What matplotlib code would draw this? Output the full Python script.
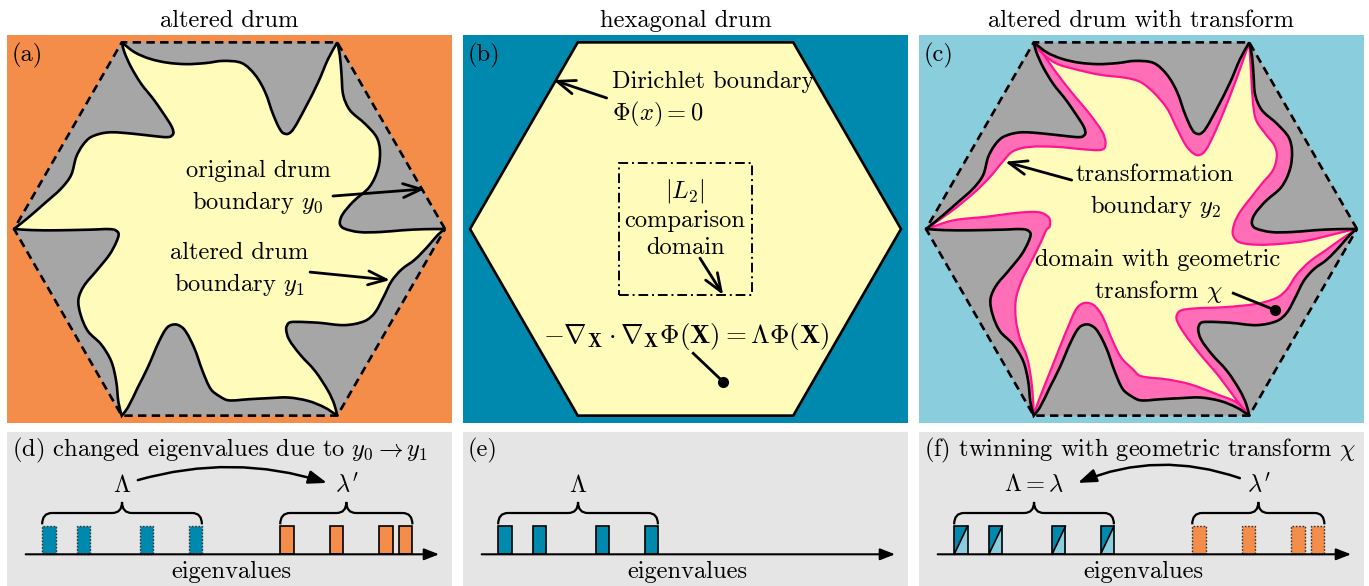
import matplotlib
matplotlib.use('Agg')
import matplotlib.pyplot as plt
import numpy as np
from matplotlib.path import Path
from matplotlib.patches import PathPatch, Polygon, Rectangle, FancyArrowPatch

plt.rcParams['font.family'] = 'serif'
plt.rcParams['font.serif'] = ['cmr10']
plt.rcParams['mathtext.fontset'] = 'cm'
plt.rcParams['axes.unicode_minus'] = False

ORANGE = '#F48D4A'
TEAL = '#0089AE'
LIGHTBLUE = '#8ACDDD'
YELLOW = '#FFFBBA'
GRAY = '#A6A6A6'
PINK_FILL = '#FF6EB6'
PINK_LINE = '#FF1493'
PANEL_BG = '#E5E5E5'
FS = 17.6

# altered boundary y1 (hexagon radius = 1), clockwise, one list per hexagon edge
y1_edges = [
    [(-1.0, 0.0), (-0.935, 0.052), (-0.858, 0.119), (-0.781, 0.188), (-0.735, 0.25),
     (-0.711, 0.335), (-0.681, 0.389), (-0.642, 0.427), (-0.565, 0.448), (-0.457, 0.443),
     (-0.349, 0.431), (-0.279, 0.427), (-0.261, 0.442), (-0.264, 0.465), (-0.279, 0.494),
     (-0.349, 0.597), (-0.410, 0.674), (-0.457, 0.752), (-0.488, 0.821), (-0.5, 0.866)],
    [(-0.5, 0.866), (-0.44, 0.82), (-0.37, 0.79), (-0.29, 0.772), (-0.2, 0.765),
     (-0.11, 0.77), (-0.03, 0.78), (0.057, 0.770), (0.119, 0.715), (0.165, 0.636),
     (0.204, 0.528), (0.242, 0.451), (0.270, 0.441), (0.296, 0.463), (0.350, 0.559),
     (0.412, 0.682), (0.458, 0.790), (0.5, 0.866)],
    [(0.5, 0.866), (0.512, 0.806), (0.520, 0.713), (0.528, 0.620), (0.559, 0.551),
     (0.628, 0.489), (0.682, 0.427), (0.698, 0.366), (0.690, 0.281), (0.650, 0.196),
     (0.574, 0.127), (0.523, 0.065), (0.512, 0.026), (0.528, 0.004), (0.60, -0.014),
     (0.70, -0.014), (0.80, -0.006), (0.90, -0.001), (1.0, 0.0)],
    [(1.0, 0.0), (0.968, -0.026), (0.921, -0.080), (0.860, -0.142), (0.798, -0.188),
     (0.752, -0.242), (0.713, -0.319), (0.674, -0.389), (0.628, -0.427), (0.535, -0.446),
     (0.412, -0.435), (0.304, -0.431), (0.275, -0.436), (0.263, -0.462), (0.275, -0.51),
     (0.327, -0.582), (0.397, -0.659), (0.458, -0.752), (0.486, -0.813), (0.5, -0.866)],
    [(0.5, -0.866), (0.443, -0.829), (0.366, -0.798), (0.273, -0.782), (0.181, -0.785),
     (0.088, -0.790), (-0.005, -0.795), (-0.045, -0.777), (-0.086, -0.744), (-0.125, -0.659),
     (-0.164, -0.551), (-0.210, -0.466), (-0.248, -0.443), (-0.287, -0.455), (-0.326, -0.520),
     (-0.380, -0.644), (-0.426, -0.736), (-0.472, -0.829), (-0.5, -0.866)],
    [(-0.5, -0.866), (-0.515, -0.806), (-0.526, -0.705), (-0.549, -0.613), (-0.596, -0.535),
     (-0.657, -0.474), (-0.691, -0.397), (-0.701, -0.327), (-0.676, -0.265), (-0.619, -0.196),
     (-0.557, -0.119), (-0.525, -0.06), (-0.515, -0.02), (-0.54, -0.002), (-0.642, -0.003),
     (-0.796, -0.006), (-0.92, -0.005), (-1.0, 0.0)],
]

# transformation boundary y2, same layout
y2_edges = [
    [(-1.0, 0.0), (-0.885, 0.080), (-0.775, 0.170), (-0.700, 0.245), (-0.642, 0.315),
     (-0.596, 0.361), (-0.519, 0.381), (-0.395, 0.381), (-0.272, 0.370), (-0.194, 0.366),
     (-0.172, 0.375), (-0.167, 0.405), (-0.182, 0.451), (-0.248, 0.543), (-0.326, 0.636),
     (-0.403, 0.736), (-0.457, 0.813), (-0.5, 0.866)],
    [(-0.5, 0.866), (-0.46, 0.815), (-0.395, 0.768), (-0.318, 0.744), (-0.194, 0.716),
     (-0.071, 0.701), (-0.005, 0.682), (0.057, 0.633), (0.119, 0.559), (0.165, 0.466),
     (0.211, 0.381), (0.255, 0.343), (0.289, 0.355), (0.327, 0.420), (0.381, 0.543),
     (0.435, 0.682), (0.474, 0.790), (0.5, 0.866)],
    [(0.5, 0.866), (0.509, 0.713), (0.517, 0.590), (0.532, 0.505), (0.574, 0.443),
     (0.616, 0.389), (0.628, 0.340), (0.610, 0.273), (0.559, 0.211), (0.505, 0.142),
     (0.458, 0.080), (0.431, 0.026), (0.424, -0.026), (0.451, -0.060), (0.535, -0.073),
     (0.644, -0.069), (0.767, -0.054), (0.890, -0.025), (0.96, -0.008), (1.0, 0.0)],
    [(1.0, 0.0), (0.93, -0.045), (0.86, -0.095), (0.782, -0.150), (0.721, -0.211),
     (0.674, -0.281), (0.628, -0.319), (0.535, -0.347), (0.381, -0.363), (0.242, -0.369),
     (0.177, -0.381), (0.162, -0.415), (0.196, -0.481), (0.273, -0.582), (0.358, -0.682),
     (0.427, -0.775), (0.474, -0.836), (0.5, -0.866)],
    [(0.5, -0.866), (0.443, -0.806), (0.350, -0.767), (0.227, -0.721), (0.119, -0.698),
     (-0.005, -0.682), (-0.040, -0.651), (-0.094, -0.597), (-0.140, -0.505), (-0.182, -0.404),
     (-0.222, -0.353), (-0.264, -0.343), (-0.299, -0.366), (-0.336, -0.443), (-0.380, -0.551),
     (-0.426, -0.667), (-0.469, -0.775), (-0.491, -0.836), (-0.5, -0.866)],
    [(-0.5, -0.866), (-0.503, -0.798), (-0.511, -0.705), (-0.531, -0.597), (-0.565, -0.505),
     (-0.583, -0.420), (-0.583, -0.327), (-0.557, -0.242), (-0.511, -0.150), (-0.465, -0.057),
     (-0.441, -0.003), (-0.426, 0.011), (-0.429, 0.052), (-0.472, 0.077), (-0.565, 0.076),
     (-0.719, 0.057), (-0.873, 0.040), (-1.0, 0.0)],
]

# eigenvalue positions (arbitrary units)
Lambda = [0.94, 1.72, 3.14, 4.23]
lambda_p = [6.29, 7.41, 8.52, 8.96]
bar_w = 0.30

titles = ['altered drum', 'hexagonal drum', 'altered drum with transform']
top_labels = ['(a)', '(b)', '(c)']


def smooth_path(edges):
    # chord-length Catmull-Rom through the traced points, corners kept at the vertices
    verts, codes = [np.asarray(edges[0][0], float)], [Path.MOVETO]
    for pts in edges:
        P = np.asarray(pts, float)
        n = len(P)
        d = np.linalg.norm(np.diff(P, axis=0), axis=1)
        m = np.zeros_like(P)
        m[0] = (P[1] - P[0]) / d[0]
        m[-1] = (P[-1] - P[-2]) / d[-1]
        for i in range(1, n - 1):
            m[i] = (P[i + 1] - P[i - 1]) / (d[i - 1] + d[i])
        for i in range(n - 1):
            verts += [P[i] + m[i] * d[i] / 3, P[i + 1] - m[i + 1] * d[i] / 3, P[i + 1]]
            codes += [Path.CURVE4] * 3
    verts.append(verts[0])
    codes.append(Path.CLOSEPOLY)
    return Path(verts, codes)


W, H = 1369, 586
fig = plt.figure(figsize=(W / 100, H / 100), dpi=100)


def px_axes(x0, y0, w, h, fc):
    ax = fig.add_axes([x0 / W, 1 - (y0 + h) / H, w / W, h / H])
    ax.set_xticks([])
    ax.set_yticks([])
    for s in ax.spines.values():
        s.set_visible(False)
    ax.set_facecolor(fc)
    return ax


hexagon = [(np.cos(a), np.sin(a)) for a in np.radians(np.arange(0, 360, 60))]
R = 215.5
path1 = smooth_path(y1_edges)
path2 = smooth_path(y2_edges)

top_axes = []
for i, (x0, fc) in enumerate(zip([7, 463, 919], [ORANGE, TEAL, LIGHTBLUE])):
    ax = px_axes(x0, 35, 445, 388, fc)
    ax.set_xlim(-222.5 / R, 222.5 / R)
    ax.set_ylim(-194 / R, 194 / R)
    ax.text(0, 0.939, titles[i], ha='center', va='baseline', fontsize=FS)
    ax.text(0.0105, 0.979, top_labels[i], transform=ax.transAxes, ha='left', va='top', fontsize=FS)
    top_axes.append(ax)

arrow_kw = dict(arrowstyle='->,head_length=1.3,head_width=0.5', lw=2, color='k',
                mutation_scale=10, shrinkA=0, shrinkB=0)

# (a) altered drum
ax = top_axes[0]
ax.add_patch(Polygon(hexagon, closed=True, fc=GRAY, ec='none'))
ax.add_patch(PathPatch(path1, fc=YELLOW, ec='k', lw=1.9))
ax.add_patch(Polygon(hexagon, closed=True, fill=False, ec='k', lw=1.9, ls=(0, (3.2, 2))))
ax.text(0.132, 0.190, 'original drum\nboundary $y_0$', ha='center', va='center',
        fontsize=FS, linespacing=1.35)
ax.annotate('', xy=(0.907, 0.186), xytext=(0.480, 0.153), arrowprops=arrow_kw)
ax.text(0.044, -0.190, 'altered drum\nboundary $y_1$', ha='center', va='center',
        fontsize=FS, linespacing=1.35)
ax.annotate('', xy=(0.745, -0.237), xytext=(0.374, -0.200), arrowprops=arrow_kw)

# (b) hexagonal drum
ax = top_axes[1]
ax.add_patch(Polygon(hexagon, closed=True, fc=YELLOW, ec='k', lw=1.9))
ax.text(-0.342, 0.599, 'Dirichlet boundary\n$\\Phi(x) = 0$', ha='left', va='center',
        fontsize=FS, linespacing=1.35)
ax.annotate('', xy=(-0.613, 0.691), xytext=(-0.366, 0.608), arrowprops=arrow_kw)
sq = 0.307
ax.add_patch(Rectangle((-sq, -sq), 2 * sq, 2 * sq, fill=False, ec='k', lw=1.4,
                       ls=(0, (5, 2, 1, 2))))
ax.text(-0.002, 0.051, '$|L_2|$\ncomparison\ndomain', ha='center', va='center',
        fontsize=FS, linespacing=1.3)
ax.annotate('', xy=(0.175, -0.306), xytext=(0.067, -0.135), arrowprops=arrow_kw)
ax.text(0.002, -0.501,
        '$-\\nabla_{\\mathbf{X}}\\cdot\\nabla_{\\mathbf{X}}\\Phi(\\mathbf{X}) = \\Lambda\\Phi(\\mathbf{X})$',
        ha='center', va='center', fontsize=FS * 1.1)
ax.plot([0.036, 0.175], [-0.577, -0.709], color='k', lw=2)
ax.plot([0.175], [-0.709], 'o', color='k', ms=7)

# (c) altered drum with transform
ax = top_axes[2]
ax.add_patch(Polygon(hexagon, closed=True, fc=GRAY, ec='none'))
ax.add_patch(PathPatch(path1, fc=PINK_FILL, ec='none'))
ax.add_patch(PathPatch(path2, fc=YELLOW, ec=PINK_LINE, lw=1.6))
ax.add_patch(PathPatch(path1, fc='none', ec='k', lw=1.9))
ax.add_patch(Polygon(hexagon, closed=True, fill=False, ec='k', lw=1.9, ls=(0, (3.2, 2))))
ax.text(0.063, 0.172, 'transformation\nboundary $y_2$', ha='center', va='center',
        fontsize=FS, linespacing=1.35)
ax.annotate('', xy=(-0.633, 0.312), xytext=(-0.324, 0.227), arrowprops=arrow_kw)
ax.text(0.077, -0.223, 'domain with geometric\ntransform $\\chi$', ha='center', va='center',
        fontsize=FS, linespacing=1.35)
ax.plot([0.426, 0.619], [-0.298, -0.376], color='k', lw=2)
ax.plot([0.619], [-0.376], 'o', color='k', ms=7)


# bottom eigenvalue panels
def brace(ax, x0, x1, yb=1.07, yf=1.475, yt=1.87, dx=0.22):
    xm = 0.5 * (x0 + x1)
    verts = [(x0, yb), (x0, yf), (x0 + dx, yf), (xm - dx, yf), (xm, yf), (xm, yt),
             (xm, yf), (xm + dx, yf), (x1 - dx, yf), (x1, yf), (x1, yb)]
    codes = [Path.MOVETO, Path.CURVE3, Path.CURVE3, Path.LINETO, Path.CURVE3, Path.CURVE3,
             Path.CURVE3, Path.CURVE3, Path.LINETO, Path.CURVE3, Path.CURVE3]
    ax.add_patch(PathPatch(Path(verts, codes), fc='none', ec='k', lw=1.6))


def bars(ax, xs, fc, ls='-', split=False):
    for x in xs:
        xa, xb = x - bar_w / 2, x + bar_w / 2
        if split:
            ax.add_patch(Polygon([(xa, 0), (xa, 1), (xb, 1)], fc=TEAL, ec='none'))
            ax.add_patch(Polygon([(xa, 0), (xb, 1), (xb, 0)], fc=LIGHTBLUE, ec='none'))
            ax.plot([xa, xb], [0, 1], color='k', lw=1.2)
            ax.add_patch(Rectangle((xa, 0), bar_w, 1, fill=False, ec='k', lw=1.2))
        elif ls == '-':
            ax.add_patch(Rectangle((xa, 0), bar_w, 1, fc=fc, ec='k', lw=1.2))
        else:
            ax.add_patch(Rectangle((xa, 0), bar_w, 1, fc=fc, ec='#333333', lw=1.0,
                                   ls=(0, (1.2, 1.2))))
    brace(ax, min(xs) - bar_w / 2, max(xs) + bar_w / 2)


bottom_axes = []
for x0 in [7, 463, 919]:
    ax = px_axes(x0, 432, 445, 154, PANEL_BG)
    ax.set_xlim(0, 10)
    ax.set_ylim(-1.132, 4.368)
    ax.annotate('', xy=(9.71, 0), xytext=(0.42, 0),
                arrowprops=dict(arrowstyle='-|>,head_length=0.9,head_width=0.35', lw=1.5,
                                color='k', mutation_scale=10, shrinkA=0, shrinkB=0))
    ax.text(5.05, -0.62, 'eigenvalues', ha='center', va='center', fontsize=FS)
    bottom_axes.append(ax)

curve_kw = dict(arrowstyle='-|>,head_length=1.1,head_width=0.4', lw=1.8, color='k',
                mutation_scale=10, shrinkA=0, shrinkB=0)

ax = bottom_axes[0]
ax.text(0.106, 3.49, '(d) changed eigenvalues due to $y_0 \\rightarrow y_1$', ha='left',
        va='baseline', fontsize=FS)
bars(ax, Lambda, TEAL, ls=':')
bars(ax, lambda_p, ORANGE)
ax.text(np.mean([min(Lambda), max(Lambda)]), 2.24, '$\\Lambda$', ha='center', va='baseline', fontsize=FS)
ax.text(np.mean([min(lambda_p), max(lambda_p)]), 2.24, "$\\lambda'$", ha='center', va='baseline', fontsize=FS)
ax.add_patch(FancyArrowPatch((2.94, 2.65), (7.19, 2.55), connectionstyle='arc3,rad=-0.15', **curve_kw))

ax = bottom_axes[1]
ax.text(0.11, 3.49, '(e)', ha='left', va='baseline', fontsize=FS)
bars(ax, Lambda, TEAL)
ax.text(np.mean([min(Lambda), max(Lambda)]), 2.24, '$\\Lambda$', ha='center', va='baseline', fontsize=FS)

ax = bottom_axes[2]
ax.text(0.106, 3.49, '(f) twinning with geometric transform $\\chi$', ha='left',
        va='baseline', fontsize=FS)
bars(ax, Lambda, TEAL, split=True)
bars(ax, lambda_p, ORANGE, ls=':')
ax.text(np.mean([min(Lambda), max(Lambda)]), 2.24, '$\\Lambda = \\lambda$', ha='center', va='baseline', fontsize=FS)
ax.text(np.mean([min(lambda_p), max(lambda_p)]), 2.24, "$\\lambda'$", ha='center', va='baseline', fontsize=FS)
ax.add_patch(FancyArrowPatch((7.21, 2.72), (3.57, 2.55), connectionstyle='arc3,rad=0.19', **curve_kw))

fig.savefig('out.png', dpi=100)
